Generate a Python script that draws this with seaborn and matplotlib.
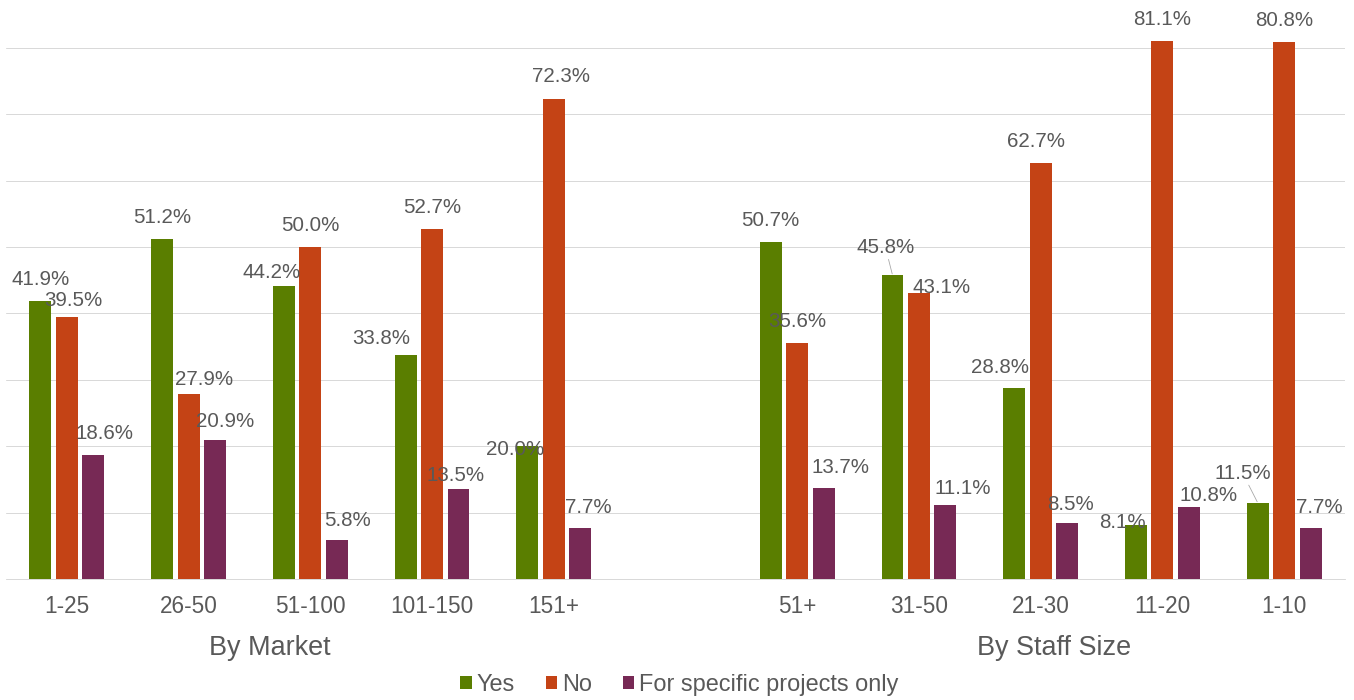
import matplotlib.pyplot as plt
import seaborn as sns
import pandas as pd

sns.set_style("white")
plt.rcParams['font.family'] = ['Liberation Sans', 'DejaVu Sans']

# data
market = ["1-25", "26-50", "51-100", "101-150", "151+"]
staff = ["51+", "31-50", "21-30", "11-20", "1-10"]
series = ["Yes", "No", "For specific projects only"]
yes = [41.9, 51.2, 44.2, 33.8, 20.0, 50.7, 45.8, 28.8, 8.1, 11.5]
no = [39.5, 27.9, 50.0, 52.7, 72.3, 35.6, 43.1, 62.7, 81.1, 80.8]
specific = [18.6, 20.9, 5.8, 13.5, 7.7, 13.7, 11.1, 8.5, 10.8, 7.7]
group_names = ["By Market", "By Staff Size"]

colors = ["#5A7E00", "#C44315", "#772955"]
text_col = "#595959"

cats = market + staff
order = market + [""] + staff
df = pd.DataFrame({
    "category": cats * 3,
    "series": [s for s in series for _ in cats],
    "value": yes + no + specific,
})

# Excel-style label nudges (px): (dx, dy above bar top)
nudge = {
    ("1-25", 1): (6, 18), ("1-25", 2): (11, 23),
    ("26-50", 1): (15, 15.5), ("26-50", 2): (10, 20.5),
    ("51-100", 0): (-12, 15), ("51-100", 2): (11, 21),
    ("101-150", 0): (-24, 17.5), ("101-150", 2): (-3, 15),
    ("151+", 0): (-12, -2), ("151+", 1): (7, 24), ("151+", 2): (8, 22),
    ("51+", 2): (17, 22),
    ("31-50", 0): (-7, 29), ("31-50", 1): (23, 7), ("31-50", 2): (17, 18.5),
    ("21-30", 0): (-14, 22), ("21-30", 1): (-5, 23), ("21-30", 2): (3, 20),
    ("11-20", 0): (-13, 4), ("11-20", 2): (20, 13.5),
    ("1-10", 0): (-15, 31), ("1-10", 2): (9, 21.5),
}
leaders = {("31-50", 0), ("1-10", 0)}

fig = plt.figure(figsize=(1354 / 72, 700 / 72), dpi=72)
ax = fig.add_axes([6 / 1354, 121 / 700, 1339 / 1354, 579 / 700])

sns.barplot(data=df, x="category", y="value", hue="series", order=order,
            hue_order=series, palette=colors, saturation=1, width=0.653,
            gap=0.173, errorbar=None, linewidth=0, ax=ax)

ax.set_ylim(0, 87.2)
ax.set_xlim(-0.5, len(order) - 0.5)
ax.set_yticks(range(0, 81, 10))
ax.set_yticklabels([])
ax.yaxis.grid(True, color="#D9D9D9", lw=1)
ax.set_axisbelow(True)
for s in ["top", "right", "left"]:
    ax.spines[s].set_visible(False)
ax.spines["bottom"].set_color("#D0D0D0")
ax.tick_params(axis="both", length=0)
ax.tick_params(axis="x", pad=16, labelsize=22.5, labelcolor=text_col)
ax.set_xlabel("")
ax.set_ylabel("")

# data labels
for si, cont in enumerate(ax.containers):
    for bar in cont:
        h = bar.get_height()
        if pd.isna(h):
            continue
        xc = bar.get_x() + bar.get_width() / 2
        cat = order[int(round(xc))]
        dx, dy = nudge.get((cat, si), (0, 23))
        kw = {}
        if (cat, si) in leaders:
            kw["arrowprops"] = dict(arrowstyle="-", color="#A6A6A6", lw=0.8,
                                    shrinkA=0, shrinkB=1)
        ax.annotate(f"{h:.1f}%", xy=(xc, h), xytext=(dx, dy - 7),
                    textcoords="offset points", ha="center", va="baseline",
                    fontsize=20.5, color=text_col, annotation_clip=False, **kw)

# group labels
fig.text(269.5 / 1354, 45 / 700, group_names[0], ha="center", va="baseline",
         fontsize=27, color=text_col)
fig.text(1054 / 1354, 45 / 700, group_names[1], ha="center", va="baseline",
         fontsize=27, color=text_col)

sns.move_legend(ax, loc="center", bbox_to_anchor=(679.5 / 1354, 15 / 700),
                bbox_transform=fig.transFigure, ncol=3, frameon=False,
                title=None, fontsize=23.5, handlelength=0.5, handleheight=0.5,
                handletextpad=0.2, columnspacing=1.3, labelcolor=text_col)

fig.savefig("out.png", dpi=72)
